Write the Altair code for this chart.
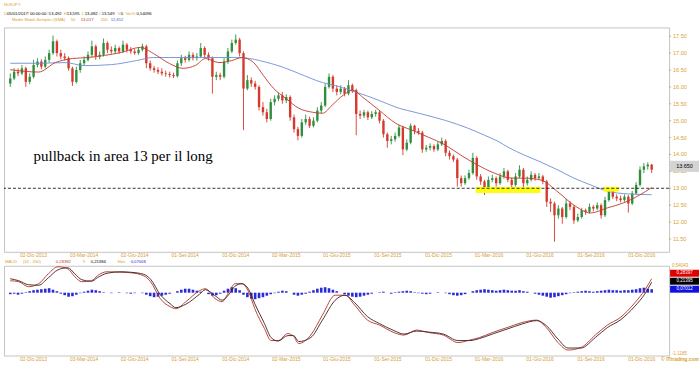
import altair as alt
import pandas as pd

# ---------------- data ----------------
start_date = "2013-10-21"   # weekly candles

opens = [16.10,16.25,16.45,16.40,16.55,16.15,16.30,16.65,16.75,16.60,
         16.80,17.00,17.35,17.00,16.90,16.85,16.55,16.15,16.50,16.70,
         16.80,16.95,17.20,16.90,16.95,17.30,17.10,17.05,17.15,17.05,
         17.25,17.10,17.05,17.00,17.10,17.20,16.70,16.55,16.50,16.45,
         16.40,16.38,16.35,16.32,16.70,16.85,16.80,16.95,16.85,16.90,
         17.15,16.95,16.85,16.30,16.35,16.30,16.75,17.05,17.30,17.40,
         17.00,15.95,16.20,16.10,16.00,15.40,15.25,15.05,15.55,15.65,
         15.75,15.60,15.70,15.10,14.75,14.55,14.95,15.05,14.85,15.00,
         15.30,15.45,16.00,16.30,15.95,15.85,15.95,15.80,16.05,15.90,
         15.20,15.15,15.25,15.10,15.20,15.25,15.00,14.60,14.40,14.45,
         14.55,14.80,14.15,14.35,14.85,14.70,14.65,14.15,14.20,14.25,
         14.15,14.30,14.40,14.05,13.95,13.85,13.30,13.15,13.30,13.45,
         13.90,13.35,13.20,13.00,13.25,13.30,13.15,13.35,13.50,13.25,
         13.10,13.35,13.55,13.15,13.25,13.40,13.30,13.35,13.20,12.60,
         12.55,12.20,12.40,12.15,12.55,12.45,12.05,12.15,12.35,12.30,
         12.45,12.40,12.50,12.20,12.65,12.95,12.75,12.70,12.65,12.75,
         12.55,12.85,13.10,13.55,13.65,13.70]
highs = [16.40,16.55,16.55,16.65,16.60,16.40,16.80,16.85,16.82,16.90,
         17.10,17.52,17.40,17.10,17.00,16.90,16.60,16.60,16.80,16.90,
         17.05,17.37,17.25,17.05,17.43,17.35,17.20,17.25,17.20,17.37,
         17.30,17.18,17.12,17.18,17.28,17.25,16.78,16.62,16.58,16.55,
         16.48,16.45,16.42,16.78,16.95,16.92,17.05,17.02,17.00,17.30,
         17.20,17.02,16.90,16.45,16.42,16.85,17.15,17.40,17.55,17.45,
         17.05,16.35,16.28,16.18,16.05,15.55,15.35,15.65,15.75,15.83,
         15.85,15.78,15.75,15.18,14.82,15.05,15.18,15.12,15.10,15.40,
         15.55,16.10,16.40,16.35,16.05,16.05,16.00,16.20,16.10,15.95,
         15.30,15.32,15.30,15.28,15.32,15.30,15.05,14.65,14.55,14.65,
         14.88,14.85,14.45,14.92,14.88,14.78,14.70,14.28,14.33,14.30,
         14.38,14.50,14.45,14.12,14.00,13.90,13.38,13.38,13.55,14.05,
         13.95,13.42,13.25,13.35,13.40,13.35,13.45,13.60,13.55,13.32,
         13.45,13.68,13.60,13.35,13.50,13.45,13.45,13.40,13.25,12.70,
         12.60,12.50,12.45,12.68,12.62,12.50,12.25,12.42,12.40,12.55,
         12.50,12.58,12.55,12.75,13.02,13.00,12.82,12.78,12.82,12.80,
         12.92,13.18,13.65,13.75,13.77,13.72]
lows = [16.00,16.20,16.32,16.35,16.00,16.08,16.25,16.58,16.52,16.55,
        16.72,16.95,16.90,16.82,16.78,16.48,16.03,16.10,16.42,16.62,
        16.75,16.88,16.80,16.82,16.90,17.00,16.98,16.98,16.98,17.00,
        17.02,16.98,16.95,16.95,17.05,16.55,16.48,16.42,16.38,16.33,
        16.30,16.28,16.26,16.28,16.62,16.72,16.75,16.78,16.78,16.85,
        16.85,16.78,15.80,16.20,16.20,16.25,16.68,17.00,17.25,16.90,
        14.72,15.90,16.00,15.92,15.30,15.15,14.95,15.00,15.45,15.58,
        15.50,15.52,15.00,14.65,14.42,14.50,14.88,14.78,14.80,14.95,
        15.22,15.40,15.95,15.85,15.75,15.78,15.72,15.75,15.82,14.57,
        15.05,15.08,15.02,15.05,15.12,14.92,14.50,14.20,14.30,14.38,
        14.50,13.98,14.10,14.30,14.60,14.58,14.05,14.08,14.12,14.08,
        14.10,14.25,13.95,13.85,13.78,13.05,13.05,13.10,13.25,13.40,
        13.25,13.10,12.80,12.95,13.18,13.05,13.10,13.28,13.18,13.00,
        13.05,13.30,13.02,13.08,13.20,13.22,13.25,13.12,12.45,12.30,
        11.42,12.10,11.95,12.10,12.35,11.95,12.00,12.10,12.22,12.25,
        12.32,12.35,12.10,12.15,12.60,12.68,12.62,12.58,12.60,12.28,
        12.50,12.80,13.05,13.45,13.55,13.45]
closes = [16.25,16.45,16.40,16.55,16.15,16.30,16.65,16.75,16.60,16.80,
          17.00,17.35,17.00,16.90,16.85,16.55,16.15,16.50,16.70,16.80,
          16.95,17.20,16.90,16.95,17.30,17.10,17.05,17.15,17.05,17.25,
          17.10,17.05,17.00,17.10,17.20,16.70,16.55,16.50,16.45,16.40,
          16.38,16.35,16.32,16.70,16.85,16.80,16.95,16.85,16.90,17.15,
          16.95,16.85,16.30,16.35,16.30,16.75,17.05,17.30,17.40,17.00,
          15.95,16.20,16.10,16.00,15.40,15.25,15.05,15.55,15.65,15.75,
          15.60,15.70,15.10,14.75,14.55,14.95,15.05,14.85,15.00,15.30,
          15.45,16.00,16.30,15.95,15.85,15.95,15.80,16.05,15.90,15.20,
          15.15,15.25,15.10,15.20,15.25,15.00,14.60,14.40,14.45,14.55,
          14.80,14.15,14.35,14.85,14.70,14.65,14.15,14.20,14.25,14.15,
          14.30,14.40,14.05,13.95,13.85,13.30,13.15,13.30,13.45,13.90,
          13.35,13.20,13.00,13.25,13.30,13.15,13.35,13.50,13.25,13.10,
          13.35,13.55,13.15,13.25,13.40,13.30,13.35,13.20,12.60,12.55,
          12.20,12.40,12.15,12.55,12.45,12.05,12.15,12.35,12.30,12.45,
          12.40,12.50,12.20,12.65,12.95,12.75,12.70,12.65,12.75,12.55,
          12.85,13.10,13.55,13.65,13.70,13.55]

sma50_week = [0, 7.3, 11.6, 16, 20, 24.2, 28.5, 33.5, 36.8, 41, 44.4, 47.7, 50.2, 53.7, 57,
              59.6, 62.6, 65.1, 67.7, 70.9, 74.2, 77.8, 80.3, 82.8, 85.6, 88.1, 90.7, 94.9,
              99.2, 103.3, 107.6, 111.9, 115.9, 120.2, 124.5, 129, 132.3, 136.6, 140.9, 145,
              149.3, 153.6, 157.6, 161.9, 165]
sma50_value = [16.51, 16.44, 16.72, 16.84, 16.87, 16.93, 17.02, 17.17, 16.99, 16.69, 16.55,
               16.64, 16.84, 16.72, 16.78, 16.87, 16.72, 16.34, 15.96, 15.66, 15.37, 15.25,
               15.22, 15.46, 15.75, 15.90, 15.69, 15.31, 14.92, 14.72, 14.51, 14.28, 13.98,
               13.69, 13.45, 13.30, 13.30, 13.24, 12.89, 12.50, 12.27, 12.42, 12.56, 12.80, 13.02]
sma200_week = [0, 7.3, 14.1, 19.1, 26, 32.5, 36.8, 41, 49.5, 57.5, 61.6, 64.1, 70.2, 74.2,
               80.3, 83.6, 89.1, 94.9, 99.2, 105.1, 111.9, 117.7, 122, 125.3, 128.3, 132.3,
               136.6, 140.9, 145, 149.3, 152.6, 156.1, 159.4, 165]
sma200_value = [16.70, 16.70, 16.72, 16.63, 16.66, 16.78, 16.87, 16.87, 16.87, 16.87, 16.84,
                16.78, 16.58, 16.40, 16.13, 16.04, 15.84, 15.60, 15.40, 15.22, 15.01, 14.78,
                14.57, 14.40, 14.20, 13.98, 13.77, 13.54, 13.30, 13.10, 12.95, 12.86, 12.83, 12.81]

macd_week = [0, 2.2, 4.7, 7.3, 9.8, 12.3, 14.8, 16.6, 18.4, 20.9, 22.4, 24.9, 28.5, 31, 34.3,
             36.1, 38.6, 41.1, 42.6, 45.2, 48.7, 50.2, 52.7, 54.5, 56.3, 57.8, 59.6, 61.3,
             62.9, 65.4, 67.1, 68.9, 71.4, 72.9, 74.2,
             77.3, 80.3, 83.6, 86.1, 88.6, 91.9, 95, 98.7, 101.3, 104.5, 107.6, 111.4, 115.2,
             118.2, 120.7, 124, 127.8, 131.6, 135.4, 137.9, 140.9, 143.5, 146.8, 150.5, 153.6,
             156.9, 160.7, 163.2, 165]
macd_value = [0.24, 0.22, 0.12, 0.18, 0.38, 0.52, 0.48, 0.32, 0.22, 0.24, 0.34, 0.42, 0.41,
              0.40, 0.34, 0.22, -0.12, -0.28, -0.32, -0.18, 0.04, 0.08, -0.12, -0.18, 0.02,
              0.18, 0.18, 0.02, -0.32, -0.72, -0.96, -0.96, -0.82, -0.88, -1.02,
              -0.85, -0.45, -0.05, -0.05, -0.25, -0.55, -0.65, -0.80, -0.85, -0.75, -0.80,
              -0.85, -1.00, -0.95, -0.90, -0.80, -0.70, -0.60, -0.55, -0.70, -1.00, -1.15,
              -1.10, -0.85, -0.65, -0.50, -0.20, 0.05, 0.28]
signal_value = [0.28, 0.24, 0.16, 0.15, 0.30, 0.46, 0.50, 0.38, 0.26, 0.23, 0.30, 0.39, 0.42,
                0.41, 0.37, 0.27, -0.04, -0.22, -0.30, -0.23, -0.03, 0.06, -0.06, -0.15, -0.03,
                0.13, 0.18, 0.07, -0.22, -0.62, -0.90, -0.97, -0.86, -0.86, -0.98,
                -0.90, -0.55, -0.15, -0.05, -0.20, -0.48, -0.62, -0.76, -0.83, -0.77, -0.79,
                -0.83, -0.96, -0.96, -0.92, -0.83, -0.73, -0.63, -0.56, -0.66, -0.93, -1.11,
                -1.11, -0.90, -0.70, -0.55, -0.27, -0.03, 0.21]
hist_value = [-0.03,-0.02,-0.04,-0.02,0.01,0.03,0.05,0.06,0.07,0.08,
              0.09,0.06,0.03,-0.02,-0.05,-0.08,-0.07,-0.04,-0.01,0.02,
              0.04,0.06,0.05,0.03,0.01,0.00,-0.01,0.00,0.01,0.00,
              -0.01,-0.02,-0.01,0.00,-0.01,-0.04,-0.07,-0.09,-0.08,-0.06,
              -0.04,-0.02,0.00,0.03,0.06,0.08,0.08,0.06,0.04,0.02,
              0.00,-0.03,-0.06,-0.05,-0.02,0.04,0.08,0.11,0.09,0.05,
              -0.04,-0.09,-0.12,-0.13,-0.11,-0.09,-0.06,-0.03,-0.01,0.02,
              0.04,0.03,0.00,-0.04,-0.06,-0.04,-0.02,0.02,0.05,0.08,
              0.10,0.11,0.09,0.06,0.03,0.00,-0.03,-0.06,-0.08,-0.09,
              -0.08,-0.06,-0.04,-0.02,0.00,0.01,0.02,0.00,-0.02,0.01,
              0.02,0.03,0.04,0.03,0.01,-0.01,-0.02,-0.03,-0.02,0.00,
              0.01,0.00,-0.01,-0.03,-0.05,-0.06,-0.05,-0.03,0.00,0.03,
              0.05,0.06,0.07,0.06,0.05,0.04,0.05,0.06,0.05,0.04,
              0.04,0.05,0.03,0.02,0.00,-0.02,-0.04,-0.06,-0.08,-0.10,
              -0.09,-0.07,-0.05,-0.03,-0.01,0.01,0.02,0.03,0.04,0.03,
              0.02,0.03,0.04,0.05,0.06,0.05,0.05,0.04,0.05,0.05,
              0.06,0.07,0.09,0.10,0.08,0.07]

tick_dates = ["2013-12-02", "2014-03-03", "2014-06-02", "2014-09-01", "2014-12-01",
              "2015-03-02", "2015-06-01", "2015-09-01", "2015-12-01", "2016-03-01",
              "2016-06-01", "2016-09-01", "2016-12-01"]
tick_labels = ["02-Dic-2013", "03-Mar-2014", "02-Giu-2014", "01-Set-2014", "01-Dic-2014",
               "02-Mar-2015", "01-Giu-2015", "01-Set-2015", "01-Dic-2015", "01-Mar-2016",
               "01-Giu-2016", "01-Set-2016", "01-Dic-2016"]
price_ticks = [11.5, 12.0, 12.5, 13.0, 13.5, 14.0, 14.5, 15.0, 15.5, 16.0, 16.5, 17.0, 17.5]
support_level = [13.0]
zone_start = ["2016-02-06", "2016-09-23"]
zone_end = ["2016-06-02", "2016-10-21"]
zone_low = [12.86, 12.90]
zone_high = [13.04, 13.04]
last_price = [13.65]
last_price_text = ["13.650"]
note_text = ["pullback in area 13 per il long"]
note_date = ["2013-12-02"]
note_price = [13.80]
macd_top_label = "0.54043"
macd_bottom_label = "-1.1185"

# ---------------- helpers ----------------
DAY = 86400000
t0 = int(pd.Timestamp(start_date).value // 10**6)


def week_ms(w):
    return t0 + w * 7 * DAY


def date_ms(s):
    return int(pd.Timestamp(s).value // 10**6)


W, PH, MH = 667, 225, 90
ORANGE = "#d9a032"
GREEN = "#2f8f3f"
RED = "#d6392c"
FONT = "Liberation Sans"

candles = pd.DataFrame({"t": [week_ms(i) for i in range(len(closes))],
                        "o": opens, "h": highs, "l": lows, "c": closes})
sma50 = pd.DataFrame({"t": [week_ms(w) for w in sma50_week], "v": sma50_value})
sma200 = pd.DataFrame({"t": [week_ms(w) for w in sma200_week], "v": sma200_value})
macd = pd.DataFrame({"t": [week_ms(w) for w in macd_week], "m": macd_value, "s": signal_value})
hist = pd.DataFrame({"t": [week_ms(i) for i in range(len(hist_value))], "h": hist_value})
ticks = pd.DataFrame({"t": [date_ms(d) for d in tick_dates], "lab": tick_labels})
pticks = pd.DataFrame({"v": price_ticks})
zones = pd.DataFrame({"a": [date_ms(d) for d in zone_start], "b": [date_ms(d) for d in zone_end],
                      "lo": zone_low, "hi": zone_high})
level = pd.DataFrame({"y": support_level})
tag = pd.DataFrame({"p": last_price, "txt": last_price_text})
note = pd.DataFrame({"t": [date_ms(d) for d in note_date], "p": note_price, "txt": note_text})

xscale = alt.Scale(domain=[week_ms(-0.33), week_ms(168.2)])
X = alt.X("t:T", scale=xscale, axis=None)
yscale = alt.Scale(domain=[11.12, 17.76], nice=False, zero=False)
candle_color = alt.condition("datum.c >= datum.o", alt.value(GREEN), alt.value(RED))


def Y(field):
    return alt.Y(field, axis=None)


def label(txt, x, y, color, size=4.2, align="left", font=FONT, weight="normal"):
    return alt.Chart(pd.DataFrame({"txt": [txt]})).mark_text(
        align=align, baseline="middle", fontSize=size, font=font, color=color,
        fontWeight=weight).encode(x=alt.value(x), y=alt.value(y), text="txt:N")


def box(x1, x2, y1, y2, color):
    return alt.Chart(pd.DataFrame({"k": [0]})).mark_rect(color=color).encode(
        x=alt.value(x1), x2=alt.value(x2), y=alt.value(y1), y2=alt.value(y2))


# ---------------- price panel ----------------
wicks = alt.Chart(candles).mark_rule(strokeWidth=0.9).encode(
    x=X, y=alt.Y("l:Q", scale=yscale, axis=None), y2="h:Q", color=candle_color)
bodies = alt.Chart(candles).mark_bar(size=2.4).encode(
    x=X, y=Y("o:Q"), y2="c:Q", color=candle_color)
l50 = alt.Chart(sma50).mark_line(color="#c0392b", strokeWidth=0.9, interpolate="monotone").encode(
    x=X, y=Y("v:Q"))
l200 = alt.Chart(sma200).mark_line(color="#6b8fd6", strokeWidth=0.9, interpolate="monotone").encode(
    x=X, y=Y("v:Q"))
zone_marks = alt.Chart(zones).mark_rect(color="#ffff00", opacity=0.95).encode(
    x=alt.X("a:T", scale=xscale, axis=None), x2="b:T", y=Y("lo:Q"), y2="hi:Q")
dash = alt.Chart(level).mark_rule(color="black", strokeDash=[3, 2], strokeWidth=0.8).encode(
    y=Y("y:Q"))
note_mark = alt.Chart(note).mark_text(align="left", baseline="alphabetic", font="Liberation Serif",
                                      fontSize=15, color="black").encode(
    x=X, y=Y("p:Q"), text="txt:N")
ytick_marks = alt.Chart(pticks).mark_rule(color=ORANGE, strokeWidth=0.8).encode(
    x=alt.value(W), x2=alt.value(W + 2), y=Y("v:Q"))
ytick_labels = alt.Chart(pticks).transform_calculate(lab="format(datum.v, '.2f')").mark_text(
    align="left", baseline="middle", fontSize=5.5, font=FONT, color=ORANGE).encode(
    x=alt.value(W + 4), y=Y("v:Q"), text="lab:N")
tag_box = alt.Chart(tag).transform_calculate(hi="datum.p + 0.165", lo="datum.p - 0.165").mark_rect(
    color="#d4d4d4").encode(x=alt.value(W + 1), x2=alt.value(W + 30), y=Y("hi:Q"), y2="lo:Q")
tag_text = alt.Chart(tag).mark_text(fontSize=5.5, font=FONT, color="black").encode(
    x=alt.value(W + 15.5), y=Y("p:Q"), text="txt:N")
xlabels = alt.Chart(ticks).mark_text(fontSize=5, font=FONT, color=ORANGE, baseline="middle").encode(
    x=alt.X("t:T", scale=xscale, axis=None), y=alt.value(PH + 3), text="lab:N")

header_items = [
    ("NOKJPY", 0, -22.5, ORANGE),
    ("D", 0, -13, ORANGE), ("05/01/2017", 3, -13, "black"),
    ("T", 23, -13, ORANGE), ("00:00:00", 26, -13, "black"),
    ("O", 42, -13, ORANGE), ("13,492", 45, -13, "black"),
    ("H", 60, -13, ORANGE), ("13,595", 63, -13, "black"),
    ("L", 78, -13, ORANGE), ("13,482", 81, -13, "black"),
    ("C", 95, -13, ORANGE), ("13,549", 98, -13, "black"),
    ("V", 114, -13, ORANGE), ("0", 117, -13, "black"),
    ("Var%", 122, -13, ORANGE), ("0,54096", 133, -13, "black"),
    ("Medie Mobili Semplici (SMA)", 8, -7, ORANGE),
    ("50", 67, -7, ORANGE), ("13,017", 77, -7, "#c0392b"),
    ("200", 97, -7, ORANGE), ("12,812", 107, -7, "#4a6fc7"),
]
header = [label(t, x, y, c) for t, x, y, c in header_items]

price_panel = alt.layer(
    wicks, bodies, l200, l50, zone_marks, dash, note_mark, ytick_marks, ytick_labels,
    tag_box, tag_text, xlabels, *header
).properties(width=W, height=PH)

# ---------------- MACD panel ----------------
mscale = alt.Scale(domain=[-1.26, 0.5404], nice=False, zero=False)
hbars = alt.Chart(hist).mark_bar(size=2.6, color="#2a2ad6").encode(
    x=X, y=alt.Y("h:Q", scale=mscale, axis=None), y2=alt.datum(0))
mline = alt.Chart(macd).mark_line(color="#b5302a", strokeWidth=0.9, interpolate="monotone").encode(
    x=X, y=alt.Y("m:Q", axis=None))
sline = alt.Chart(macd).mark_line(color="#3b2020", strokeWidth=0.9, interpolate="monotone").encode(
    x=X, y=alt.Y("s:Q", axis=None))
mlabels = alt.Chart(ticks).mark_text(fontSize=5, font=FONT, color=ORANGE, baseline="middle").encode(
    x=alt.X("t:T", scale=xscale, axis=None), y=alt.value(MH + 4), text="lab:N")

macd_items = [
    ("MACD", 1, -3.5, ORANGE), ("(32 , 200)", 19, -3.5, ORANGE),
    ("0,28382", 52, -3.5, "#c0392b"), ("9", 79, -3.5, ORANGE),
    ("0,21384", 87, -3.5, "black"), ("Hist", 114, -3.5, ORANGE),
    ("0,07008", 127, -3.5, "#2a2ad6"),
]
macd_head = [label(t, x, y, c) for t, x, y, c in macd_items]
right_boxes = [
    box(W + 1, W + 30, 4, 11, "#e00000"), label("0,28397", W + 15.5, 7.5, "white", 4.5, "center"),
    box(W + 1, W + 30, 12, 19, "black"), label("0,21395", W + 15.5, 15.5, "white", 4.5, "center"),
    box(W + 1, W + 30, 20, 27, "#1010e0"), label("0,07012", W + 15.5, 23.5, "white", 4.5, "center"),
    label(macd_top_label, W + 3, 0, ORANGE, 4.5),
    label(macd_bottom_label, W + 3, MH - 2, ORANGE, 4.5),
    label("\u00a9 ITtrading.com", W + 30, MH + 4, ORANGE, 5, "right", weight="bold"),
]

macd_panel = alt.layer(hbars, mline, sline, mlabels, *macd_head, *right_boxes).properties(
    width=W, height=MH)

chart = alt.vconcat(price_panel, macd_panel, spacing=1).configure(
    padding={"left": 3, "top": 2, "right": 0, "bottom": 0}, background="white"
).configure_view(stroke="#c4c4c4", strokeWidth=1)

chart.save("out.html", embed_options={"renderer": "svg", "actions": False})
